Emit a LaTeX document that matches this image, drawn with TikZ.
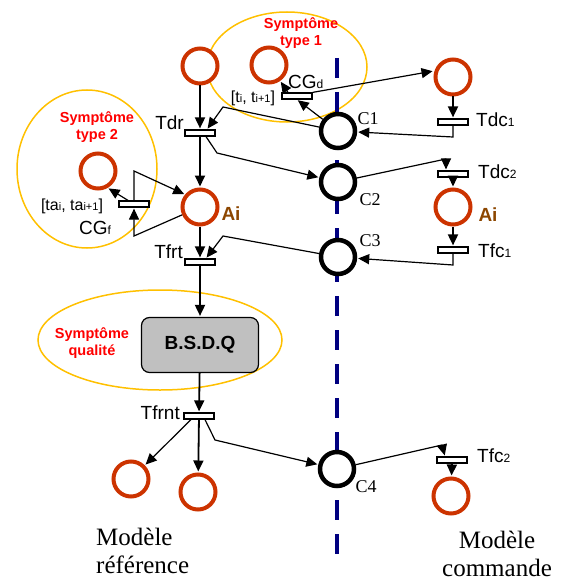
\documentclass[tikz,border=0pt]{standalone}
\usepackage{fontspec}
\setmainfont{Liberation Sans}
\newfontfamily\timesfont{Liberation Serif}
\usetikzlibrary{arrows.meta}
\definecolor{placered}{RGB}{204,51,0}
\definecolor{symred}{RGB}{255,0,0}
\definecolor{aibrown}{RGB}{140,70,0}
\definecolor{ellyellow}{RGB}{255,192,0}
\definecolor{sepblue}{RGB}{0,0,128}
\definecolor{boxgray}{RGB}{192,192,192}
\newcommand{\idx}[1]{{\fontsize{12}{12}\selectfont #1}}
\newcommand{\idxs}[1]{{\fontsize{11}{11}\selectfont #1}}
\tikzset{
	place/.style={circle,draw=placered,fill=white,line width=4pt,minimum size=35pt,inner sep=0pt},
	cond/.style={circle,draw=black,fill=white,line width=4.5pt,minimum size=34pt,inner sep=0pt},
	trans/.style={rectangle,draw=black,fill=white,line width=1.2pt,minimum width=30pt,minimum height=6pt,inner sep=0pt},
	flow/.style={-{Triangle[length=11pt,width=10pt]},line width=1.8pt,shorten >=1pt},
	arc/.style={-{Triangle[length=11pt,width=10pt]},line width=1.2pt,shorten >=1pt},
	lbl/.style={inner sep=0pt,font=\fontsize{19}{19}\selectfont},
	intlbl/.style={inner sep=0pt,font=\fontsize{16}{16}\selectfont},
	clbl/.style={inner sep=0pt,font=\timesfont\fontsize{18}{18}\selectfont},
	ailbl/.style={inner sep=0pt,text=aibrown,font=\bfseries\fontsize{19}{19}\selectfont},
	symp/.style={inner sep=0pt,text=symred,align=center,font=\bfseries\fontsize{14.5}{17}\selectfont},
	model/.style={inner sep=0pt,font=\timesfont\fontsize{25}{28}\selectfont},
	symzone/.style={draw=ellyellow,line width=1.5pt}
}
\begin{document}
\begin{tikzpicture}[x=1pt,y=-1pt]
	\useasboundingbox (0,0) rectangle (562,583);
	\draw[symzone] (287,67) ellipse [x radius=80pt,y radius=55pt];
	\draw[symzone] (87,169) ellipse [x radius=70pt,y radius=79pt];
	\draw[symzone] (160,340) ellipse [x radius=122pt,y radius=50pt];
	\draw[sepblue,line width=4pt,dash pattern=on 20pt off 14pt] (337,58) -- (337,554);

	\node[place] (p1) at (200,66) {};
	\node[place] (p2) at (269,65) {};
	\node[place] (pdc1) at (453,77) {};
	\node[place] (ps2) at (98,171) {};
	\node[place] (air) at (200,207) {};
	\node[place] (aic) at (453,207) {};
	\node[place] (pr1) at (131,479) {};
	\node[place] (pr2) at (198,492) {};
	\node[place] (pfc2) at (451,496) {};
	\node[cond] (c1) at (338,131) {};
	\node[cond] (c2) at (338,182) {};
	\node[cond] (c3) at (338,257) {};
	\node[cond] (c4) at (337,469) {};
	\node[trans] (tdr) at (200,133) {};
	\node[trans] (cgd) at (297,96) {};
	\node[trans] (cgf) at (134,204) {};
	\node[trans] (tfrt) at (200,262) {};
	\node[trans] (tfrnt) at (199,416) {};
	\node[trans] (tdc1) at (453,122) {};
	\node[trans] (tdc2) at (453,174) {};
	\node[trans] (tfc1) at (453,250) {};
	\node[trans] (tfc2) at (452,460) {};
	\node[draw,fill=boxgray,rounded corners=8pt,line width=1.2pt,minimum width=117pt,minimum height=55pt,font=\bfseries\fontsize{19}{19}\selectfont] (bsdq) at (200,345) {B.S.D.Q};

	\draw[flow] (p1) -- (tdr);
	\draw[flow] (tdr) -- (air);
	\draw[flow] (air) -- (tfrt);
	\draw[flow] (tfrt) -- (bsdq);
	\draw[flow] (bsdq) -- (tfrnt);
	\draw[flow] (tfrnt) -- (pr2);
	\draw[flow] (pdc1) -- (tdc1);
	\draw[flow] (tdc2) -- (aic);
	\draw[flow] (aic) -- (tfc1);
	\draw[flow] (tfc2) -- (pfc2);
	\draw[arc] (c1) -- (223,107) -- ([xshift=7pt]tdr.north);
	\draw[arc] ([xshift=6pt]tdr.south) -- (217,153) -- (c2);
	\draw[arc] (c2) -- (446,159) -- ([xshift=-7pt]tdc2.north);
	\draw[arc] (tdc1.south) -- (453,137) -- (c1);
	\draw[arc] (c1) -- (cgd.south);
	\draw[arc] ([xshift=-9pt]cgd.north) -- (p2.-55);
	\draw[arc] (cgd.north east) -- ([yshift=6pt]pdc1.west);
	\draw[arc] (tfc1.south) -- (453,265) -- (c3);
	\draw[arc] (c3) -- (223,236) -- ([xshift=6pt]tfrt.north);
	\draw[arc] ([xshift=-8pt]tfrnt.south) -- (pr1);
	\draw[arc] ([xshift=6pt]tfrnt.south) -- (215,440) -- (c4);
	\draw[arc] (c4) -- (442,445) -- ([xshift=-7pt]tfc2.north);
	\draw[arc] (air) -- (134,236) -- (cgf.south);
	\draw[arc] (cgf.north) -- (134,171) -- (air.140);
	\draw[arc] ([xshift=-6pt]cgf.north) -- (ps2.-60);

	\node[lbl,anchor=east] (ltdr) at (184,123) {Tdr};
	\node[lbl,anchor=east] (ltfrt) at (183,252) {Tfrt};
	\node[lbl,anchor=east] (ltfrnt) at (180,413) {Tfrnt};
	\node[lbl,anchor=west] (ltdc1) at (476,120) {Tdc\idx{1}};
	\node[lbl,anchor=west] (ltdc2) at (478,172) {Tdc\idx{2}};
	\node[lbl,anchor=west] (ltfc1) at (478,251) {Tfc\idx{1}};
	\node[lbl,anchor=west] (ltfc2) at (477,456) {Tfc\idx{2}};
	\node[lbl,anchor=west] (lcgd) at (288,82) {CG\idx{d}};
	\node[lbl,anchor=west] (lcgf) at (79,228) {CG\idx{f}};
	\node[intlbl] (lint1) at (253,98) {[t\idxs{i}, t\idxs{i+1}]};
	\node[intlbl] (lint2) at (72,206) {[ta\idxs{i}, ta\idxs{i+1}]};
	\node[clbl] (lc1) at (368,119) {C1};
	\node[clbl] (lc2) at (370,200) {C2};
	\node[clbl] (lc3) at (370,241) {C3};
	\node[clbl] (lc4) at (366,487) {C4};
	\node[ailbl] (lai1) at (231,214) {Ai};
	\node[ailbl] (lai2) at (488,215) {Ai};
	\node[symp] (s1) at (301,33) {Symptôme\\type 1};
	\node[symp] (s2) at (97,127) {Symptôme\\type 2};
	\node[symp] (s3) at (92,343) {Symptôme\\qualité};
	\node[model,align=left,anchor=north west] (mref) at (96,528) {Modèle\\référence};
	\node[model,align=center,anchor=north] (mcom) at (497,531) {Modèle\\commande};
\end{tikzpicture}
\end{document}
